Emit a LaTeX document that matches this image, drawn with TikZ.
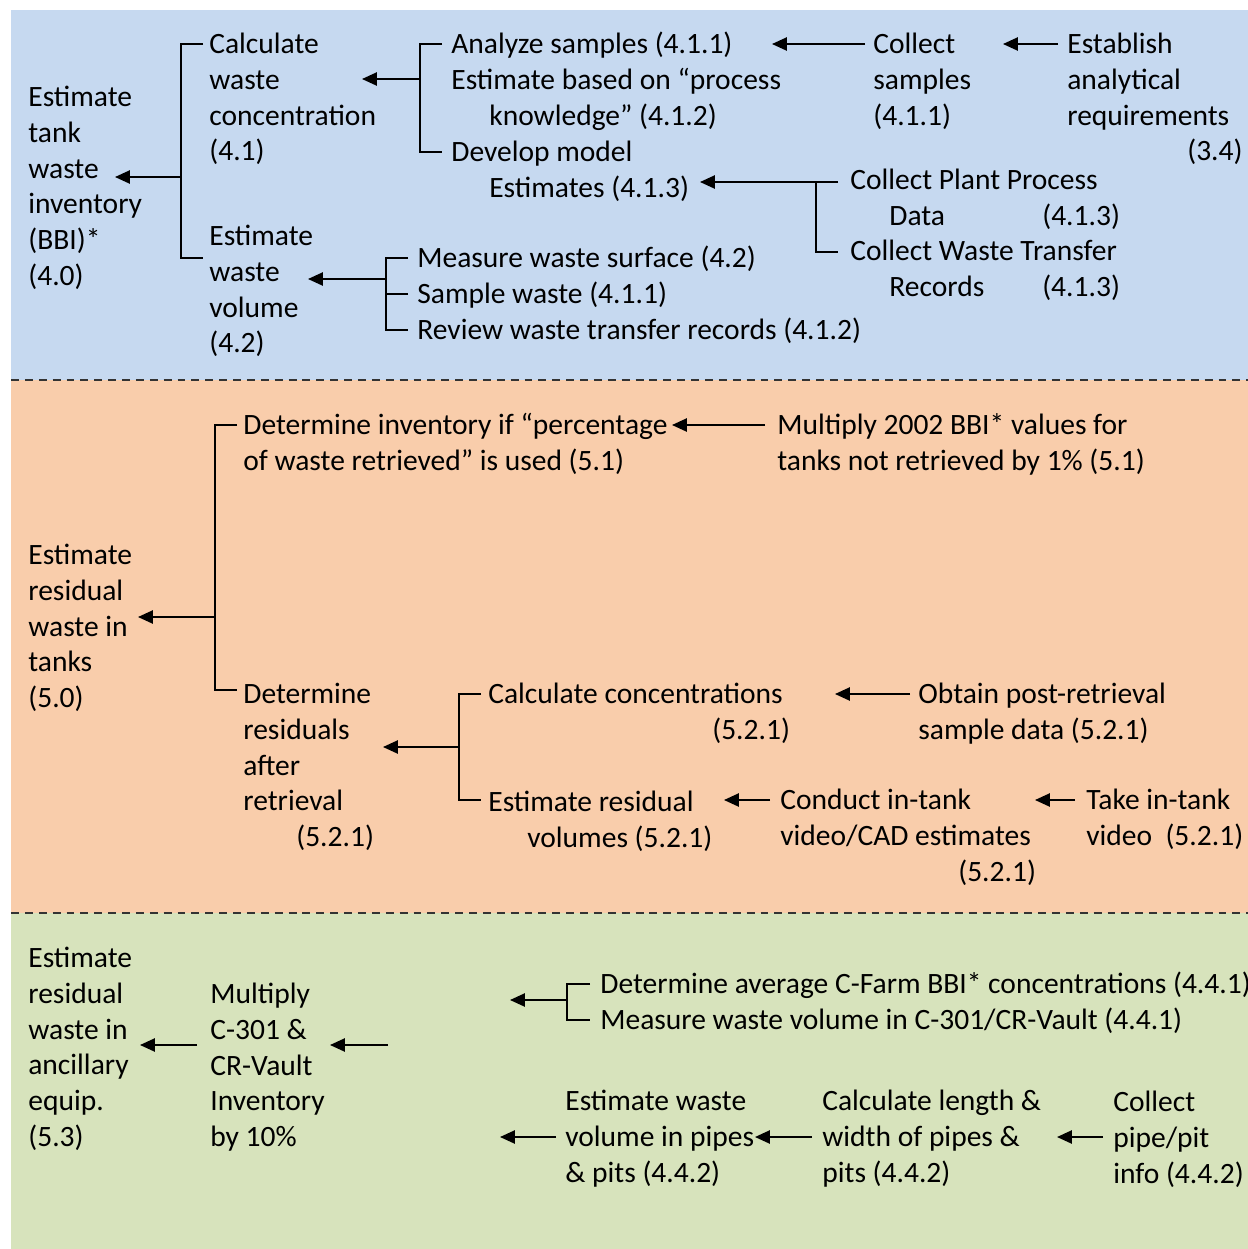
\documentclass[tikz,border=0pt]{standalone}
\usepackage{fontspec}
\setmainfont{Carlito}
\usepackage{xcolor}
\usepackage{tikz}
\usetikzlibrary{arrows.meta,calc}

\definecolor{blueband}{HTML}{C6D9F0}
\definecolor{orangeband}{HTML}{F9CDAB}
\definecolor{greenband}{HTML}{D7E3BC}

\begin{document}
\begin{tikzpicture}[
  x=0.02cm, y=-0.02cm,
  lbl/.style={anchor=north west, inner sep=0pt, align=left,
    font=\fontsize{16.8}{20.4}\selectfont},
  arr/.style={-{Triangle[length=8.5pt,width=7.5pt]}, line width=1.1pt},
  brk/.style={line width=1.1pt},
  sep/.style={line width=1.1pt, black!80, dash pattern=on 4.5pt off 3.4pt}
]
\useasboundingbox (0,0) rectangle (1248,1249);

%--------------------------------------------------
% bands
%--------------------------------------------------
\fill[blueband] (11,10) rectangle (1248,380);
\fill[orangeband] (11,380) rectangle (1248,913);
\fill[greenband] (11,913) rectangle (1248,1249);
\draw[sep] (11,380) -- (1248,380);
\draw[sep] (11,913) -- (1248,913);

%--------------------------------------------------
% top band: tank waste inventory
%--------------------------------------------------
\node[lbl] (inv) at (28,81) {\strut Estimate\\tank\\waste\\inventory\\(BBI)*\\(4.0)};
\node[lbl] (conc) at (209,28) {\strut Calculate\\waste\\concentration\\(4.1)};
\node[lbl] (vol) at (209,220) {\strut Estimate\\waste\\volume\\(4.2)};

\node[lbl] (analyze) at (451,28) {\strut Analyze samples (4.1.1)};
\node[lbl] (procknow) at (451,64) {\strut Estimate based on ``process\\\hspace*{0.76cm}knowledge'' (4.1.2)};
\node[lbl] (model) at (451,136) {\strut Develop model\\\hspace*{0.76cm}Estimates (4.1.3)};
\node[lbl] (collect) at (873,28) {\strut Collect\\samples\\(4.1.1)};
\node[lbl] (anreq) at (1067,28) {\strut Establish\\analytical\\requirements\\\hspace*{2.4cm}(3.4)};
\node[lbl] (plant) at (850,164) {\strut Collect Plant Process\\\hspace*{0.78cm}\makebox[3.06cm][l]{Data}(4.1.3)};
\node[lbl] (transfer) at (850,235) {\strut Collect Waste Transfer\\\hspace*{0.78cm}\makebox[3.06cm][l]{Records}(4.1.3)};

\node[lbl] (surface) at (417,242) {\strut Measure waste surface (4.2)};
\node[lbl] (sample) at (417,278) {\strut Sample waste (4.1.1)};
\node[lbl] (review) at (417,314) {\strut Review waste transfer records (4.1.2)};

\coordinate (j1) at (181,177);
\coordinate (j2) at (420,79);
\coordinate (j3) at (816,182);
\coordinate (j4) at (386,279);

\draw[brk] ($(conc.north west)+(-6,16)$) -| (j1) |- ($(vol.north west)+(-6,38)$);
\draw[arr] (j1) -- ($(inv.north west)+(87,96)$);

\draw[brk] ($(analyze.north west)+(-9,16)$) -| (j2) |- ($(model.north west)+(-9,16)$);
\draw[arr] (j2) -- ($(conc.north west)+(153,51)$);

\draw[arr] ($(collect.north west)+(-8,16)$) -- ($(analyze.north west)+(321,16)$);
\draw[arr] ($(anreq.north west)+(-9,16)$) -- ($(collect.north west)+(130,16)$);

\draw[brk] ($(plant.north west)+(-12,18)$) -- (j3) |- ($(transfer.north west)+(-12,17)$);
\draw[arr] (j3) -- ($(model.north west)+(249,46)$);

\draw[brk] ($(surface.north west)+(-9,16)$) -| (j4) |- ($(review.north west)+(-9,16)$);
\draw[brk] ($(sample.north west)+(-9,16)$) -- ++(-22,0);
\draw[arr] (j4) -- ($(vol.north west)+(99,59)$);

%--------------------------------------------------
% middle band: residual waste in tanks
%--------------------------------------------------
\node[lbl] (resid) at (28,539) {\strut Estimate\\residual\\waste in\\tanks\\(5.0)};
\node[lbl] (pct) at (243,409) {\strut Determine inventory if ``percentage\\of waste retrieved'' is used (5.1)};
\node[lbl] (bbi) at (777,409) {\strut Multiply 2002 BBI* values for\\tanks not retrieved by 1\% (5.1)};
\node[lbl] (after) at (243,678) {\strut Determine\\residuals\\after\\retrieval\\\hspace*{1.06cm}(5.2.1)};
\node[lbl] (calcc) at (488,678) {\strut Calculate concentrations\\\hspace*{4.48cm}(5.2.1)};
\node[lbl] (postdata) at (918,678) {\strut Obtain post-retrieval\\sample data (5.2.1)};
\node[lbl] (residvol) at (488,786) {\strut Estimate residual\\\hspace*{0.78cm}volumes (5.2.1)};
\node[lbl] (cad) at (780,784) {\strut Conduct in-tank\\video/CAD estimates\\\hspace*{3.56cm}(5.2.1)};
\node[lbl] (video) at (1086,784) {\strut Take in-tank\\video~~(5.2.1)};

\coordinate (j5) at (215,617);
\coordinate (j6) at (459,747);

\draw[brk] ($(pct.north west)+(-6,16)$) -| (j5) |- ($(after.north west)+(-6,12)$);
\draw[arr] (j5) -- ($(resid.north west)+(110,78)$);
\draw[arr] ($(bbi.north west)+(-12,16)$) -- ($(pct.north west)+(429,16)$);

\draw[brk] ($(calcc.north west)+(-7,16)$) -| (j6) |- ($(residvol.north west)+(-7,14)$);
\draw[arr] (j6) -- ($(after.north west)+(140,69)$);
\draw[arr] ($(postdata.north west)+(-8,16)$) -- ($(calcc.north west)+(347,16)$);
\draw[arr] ($(cad.north west)+(-10,16)$) -- ($(residvol.north west)+(236,14)$);
\draw[arr] ($(video.north west)+(-11,16)$) -- ($(cad.north west)+(255,16)$);

%--------------------------------------------------
% bottom band: ancillary equipment
%--------------------------------------------------
\node[lbl] (ancil) at (28,942) {\strut Estimate\\residual\\waste in\\ancillary\\equip.\\(5.3)};
\node[lbl] (vault) at (210,978) {\strut Multiply\\C-301 \&\\CR-Vault\\Inventory\\by 10\%};
\node[lbl] (farm) at (600,968) {\strut Determine average C-Farm BBI* concentrations (4.4.1)};
\node[lbl] (vaultvol) at (600,1004) {\strut Measure waste volume in C-301/CR-Vault (4.4.1)};
\node[lbl] (pipes) at (565,1085) {\strut Estimate waste\\volume in pipes\\\& pits (4.4.2)};
\node[lbl] (length) at (822,1085) {\strut Calculate length \&\\width of pipes \&\\pits (4.4.2)};
\node[lbl] (pipeinfo) at (1113,1086) {\strut Collect\\pipe/pit\\info (4.4.2)};

\coordinate (g0) at (388,1045);
\coordinate (g1) at (510,1000);
\coordinate (g2) at (500,1137);
\coordinate (j7) at (567,1000);

\draw[arr] ($(vault.north west)+(-13,67)$) -- ($(ancil.north west)+(112,103)$);
\draw[arr] (g0) -- ($(vault.north west)+(120,67)$);

\draw[brk] ($(farm.north west)+(-10,16)$) -| (j7) |- ($(vaultvol.north west)+(-10,16)$);
\draw[arr] (j7) -- (g1);

\draw[arr] ($(pipes.north west)+(-9,52)$) -- (g2);
\draw[arr] ($(length.north west)+(-10,52)$) -- ($(pipes.north west)+(190,52)$);
\draw[arr] ($(pipeinfo.north west)+(-10,51)$) -- ($(length.north west)+(235,52)$);

\end{tikzpicture}
\end{document}
